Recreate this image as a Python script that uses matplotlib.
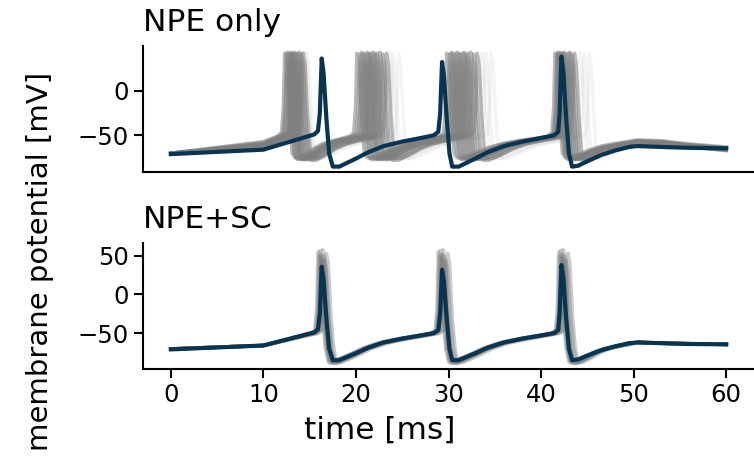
import matplotlib
matplotlib.use("Agg")
import matplotlib.pyplot as plt

# ---------------- data ----------------
# observed membrane-potential trace (time in ms, voltage in mV)
obs_t = [0, 10, 15.5, 15.9, 16.1, 16.3, 16.5, 16.8, 17.1, 17.5, 18.2, 19.0, 20.0,
         21.3, 23, 25, 27, 28.4, 28.9, 29.1, 29.3, 29.5, 29.8, 30.1, 30.4, 31.1,
         31.9, 32.9, 34.2, 36, 38, 40, 41.4, 41.85, 42.0, 42.2, 42.4, 42.7, 43.0,
         43.35, 44.0, 45.0, 46.5, 48.0, 49.5, 50.4, 53, 56, 60]
obs_v = [-71, -66, -49, -45, -25, 36, 20, -30, -70, -85, -85, -81, -76,
         -69, -62, -57, -53, -50, -46, -25, 32, 17, -30, -70, -85, -85,
         -81, -76, -69, -62, -57, -53, -50, -46, -25, 38, 22, -30, -70,
         -85, -84, -79, -72, -67, -63, -62, -63, -64, -64.5]

# posterior-predictive samples, NPE only: spike peak times per sample (ms)
npe_spikes = [
    [12.3, 20.1, 29.8, 41.5], [12.5, 20.4, 30.1, 41.7], [12.6, 20.6, 30.3, 41.8],
    [12.8, 20.8, 30.5, 41.9], [12.9, 21.0, 30.7, 42.0], [13.0, 21.2, 30.9, 42.1],
    [13.1, 21.4, 31.1, 42.2], [13.2, 21.5, 31.3, 42.3], [13.3, 21.7, 31.5, 42.4],
    [13.4, 21.9, 31.7, 42.5], [13.6, 22.1, 31.9, 42.7], [13.7, 22.3, 32.1, 42.9],
    [13.9, 22.6, 32.4, 43.1], [14.1, 22.9, 32.7, 43.3], [14.3, 23.3, 33.1, 43.6],
]
npe_peaks = [42, 41, 43, 42, 41, 43, 42, 41, 42, 43, 41, 42, 43, 41, 42]
npe_v10 = [-57, -58, -59, -60, -60, -61, -61, -62, -62, -63, -63, -64, -64, -65, -66]
npe_trough = [-75, -76, -77, -75, -76, -77, -75, -76, -77, -76, -75, -77, -76, -78, -76]
npe_hump = [-55, -56, -57, -58, -57, -56, -59, -58, -57, -58, -59, -60, -58, -57, -59]
npe_end = [-63, -64, -65, -66, -64, -65, -66, -67, -65, -64, -66, -65, -67, -64, -66]
# faint outlier samples (NPE only)
npe_faint_spikes = [[14.7, 24.6, 34.6, 45.2], [14.5, 24.0, 34.0, 44.6],
                    [14.0, 23.7, 33.6, 44.2]]

# posterior-predictive samples, NPE+SC
sc_spikes = [
    [15.9, 28.9, 41.9], [16.0, 29.0, 42.0], [16.1, 29.1, 42.1], [16.2, 29.2, 42.2],
    [16.2, 29.3, 42.3], [16.3, 29.3, 42.3], [16.4, 29.4, 42.4], [16.5, 29.5, 42.5],
    [16.6, 29.7, 42.7], [16.8, 29.9, 42.9],
]
sc_peaks = [55, 50, 57, 48, 52, 45, 58, 50, 44, 53]
sc_trough = [-87, -86, -89, -85, -88, -86, -89, -87, -85, -88]

# ---------------- helpers ----------------
REC_F = [0.08, 0.18, 0.30, 0.47, 0.67, 0.86]
REC_G = [0.11, 0.26, 0.46, 0.66, 0.80, 0.91]


def build_sample(spikes, peak, v0, v10, pre, trough, hump, vend):
    t = [0, 10]
    v = [v0, v10]
    last = None
    for s in spikes:
        if last is not None:
            a, b = last + 0.6, s - 0.8
            t += [a + f * (b - a) for f in REC_F]
            v += [trough + g * (pre - trough) for g in REC_G]
        t += [s - 0.8, s - 0.35, s - 0.15, s, s + 0.2, s + 0.5, s + 0.8, s + 1.1, s + 1.6]
        v += [pre, pre + 4, -20, peak, peak - 12, -30, -70, trough, trough]
        last = s + 1.0
    a, b = last + 0.6, 50.4
    t += [a + f * (b - a) for f in REC_F] + [50.4, 53, 56, 60]
    v += [trough + g * (hump - trough) for g in REC_G] + [hump, hump - 1, (hump + vend) / 2 - 0.5, vend]
    return t, v


NAVY = "#073450"
GRAY = "#7f7f7f"

fig = plt.figure(figsize=(7.54, 4.73), dpi=100)
ax1 = fig.add_axes([0.1897, 0.6364, 0.8103, 0.2664])
ax2 = fig.add_axes([0.1897, 0.2205, 0.8103, 0.2664])

# NPE only
for i, sp in enumerate(npe_spikes):
    t, v = build_sample(sp, npe_peaks[i], -70, npe_v10[i], -51, npe_trough[i],
                        npe_hump[i], npe_end[i])
    ax1.plot(t, v, color=GRAY, lw=2.5, alpha=0.55)
for sp in npe_faint_spikes:
    t, v = build_sample(sp, 42, -70, -60, -52, -76, -58, -65)
    ax1.plot(t, v, color=GRAY, lw=2.5, alpha=0.08)
ax1.plot(obs_t, obs_v, color=NAVY, lw=3.0)

# NPE+SC
for i, sp in enumerate(sc_spikes):
    t, v = build_sample(sp, sc_peaks[i], -70.5, -66, -50, sc_trough[i], -62, -64.5)
    ax2.plot(t, v, color=GRAY, lw=2.6, alpha=0.4)
ax2.plot(obs_t, obs_v, color=NAVY, lw=3.0)

ax1.set_ylim(-91, 50)
ax2.set_ylim(-96, 67)
for ax in (ax1, ax2):
    ax.set_xlim(-3, 63)
    for side in ("top", "right"):
        ax.spines[side].set_visible(False)
    for side in ("left", "bottom"):
        ax.spines[side].set_linewidth(1.5)
    ax.tick_params(labelsize=17.5, length=6.5, width=1.5)

ax1.set_yticks([0, -50])
ax1.set_xticks([])
ax2.set_yticks([50, 0, -50])
ax2.set_xticks([0, 10, 20, 30, 40, 50, 60])

ax1.set_title("NPE only", loc="left", fontsize=22.5, pad=10.5)
ax2.set_title("NPE+SC", loc="left", fontsize=22.5, pad=10.5)

fig.text(0.053, 0.448, "membrane potential [mV]", rotation=90, ha="center",
         va="center", fontsize=21)
fig.text(0.504, 0.091, "time [ms]", ha="center", va="center", fontsize=22.5)

fig.savefig("out.png", dpi=100)
